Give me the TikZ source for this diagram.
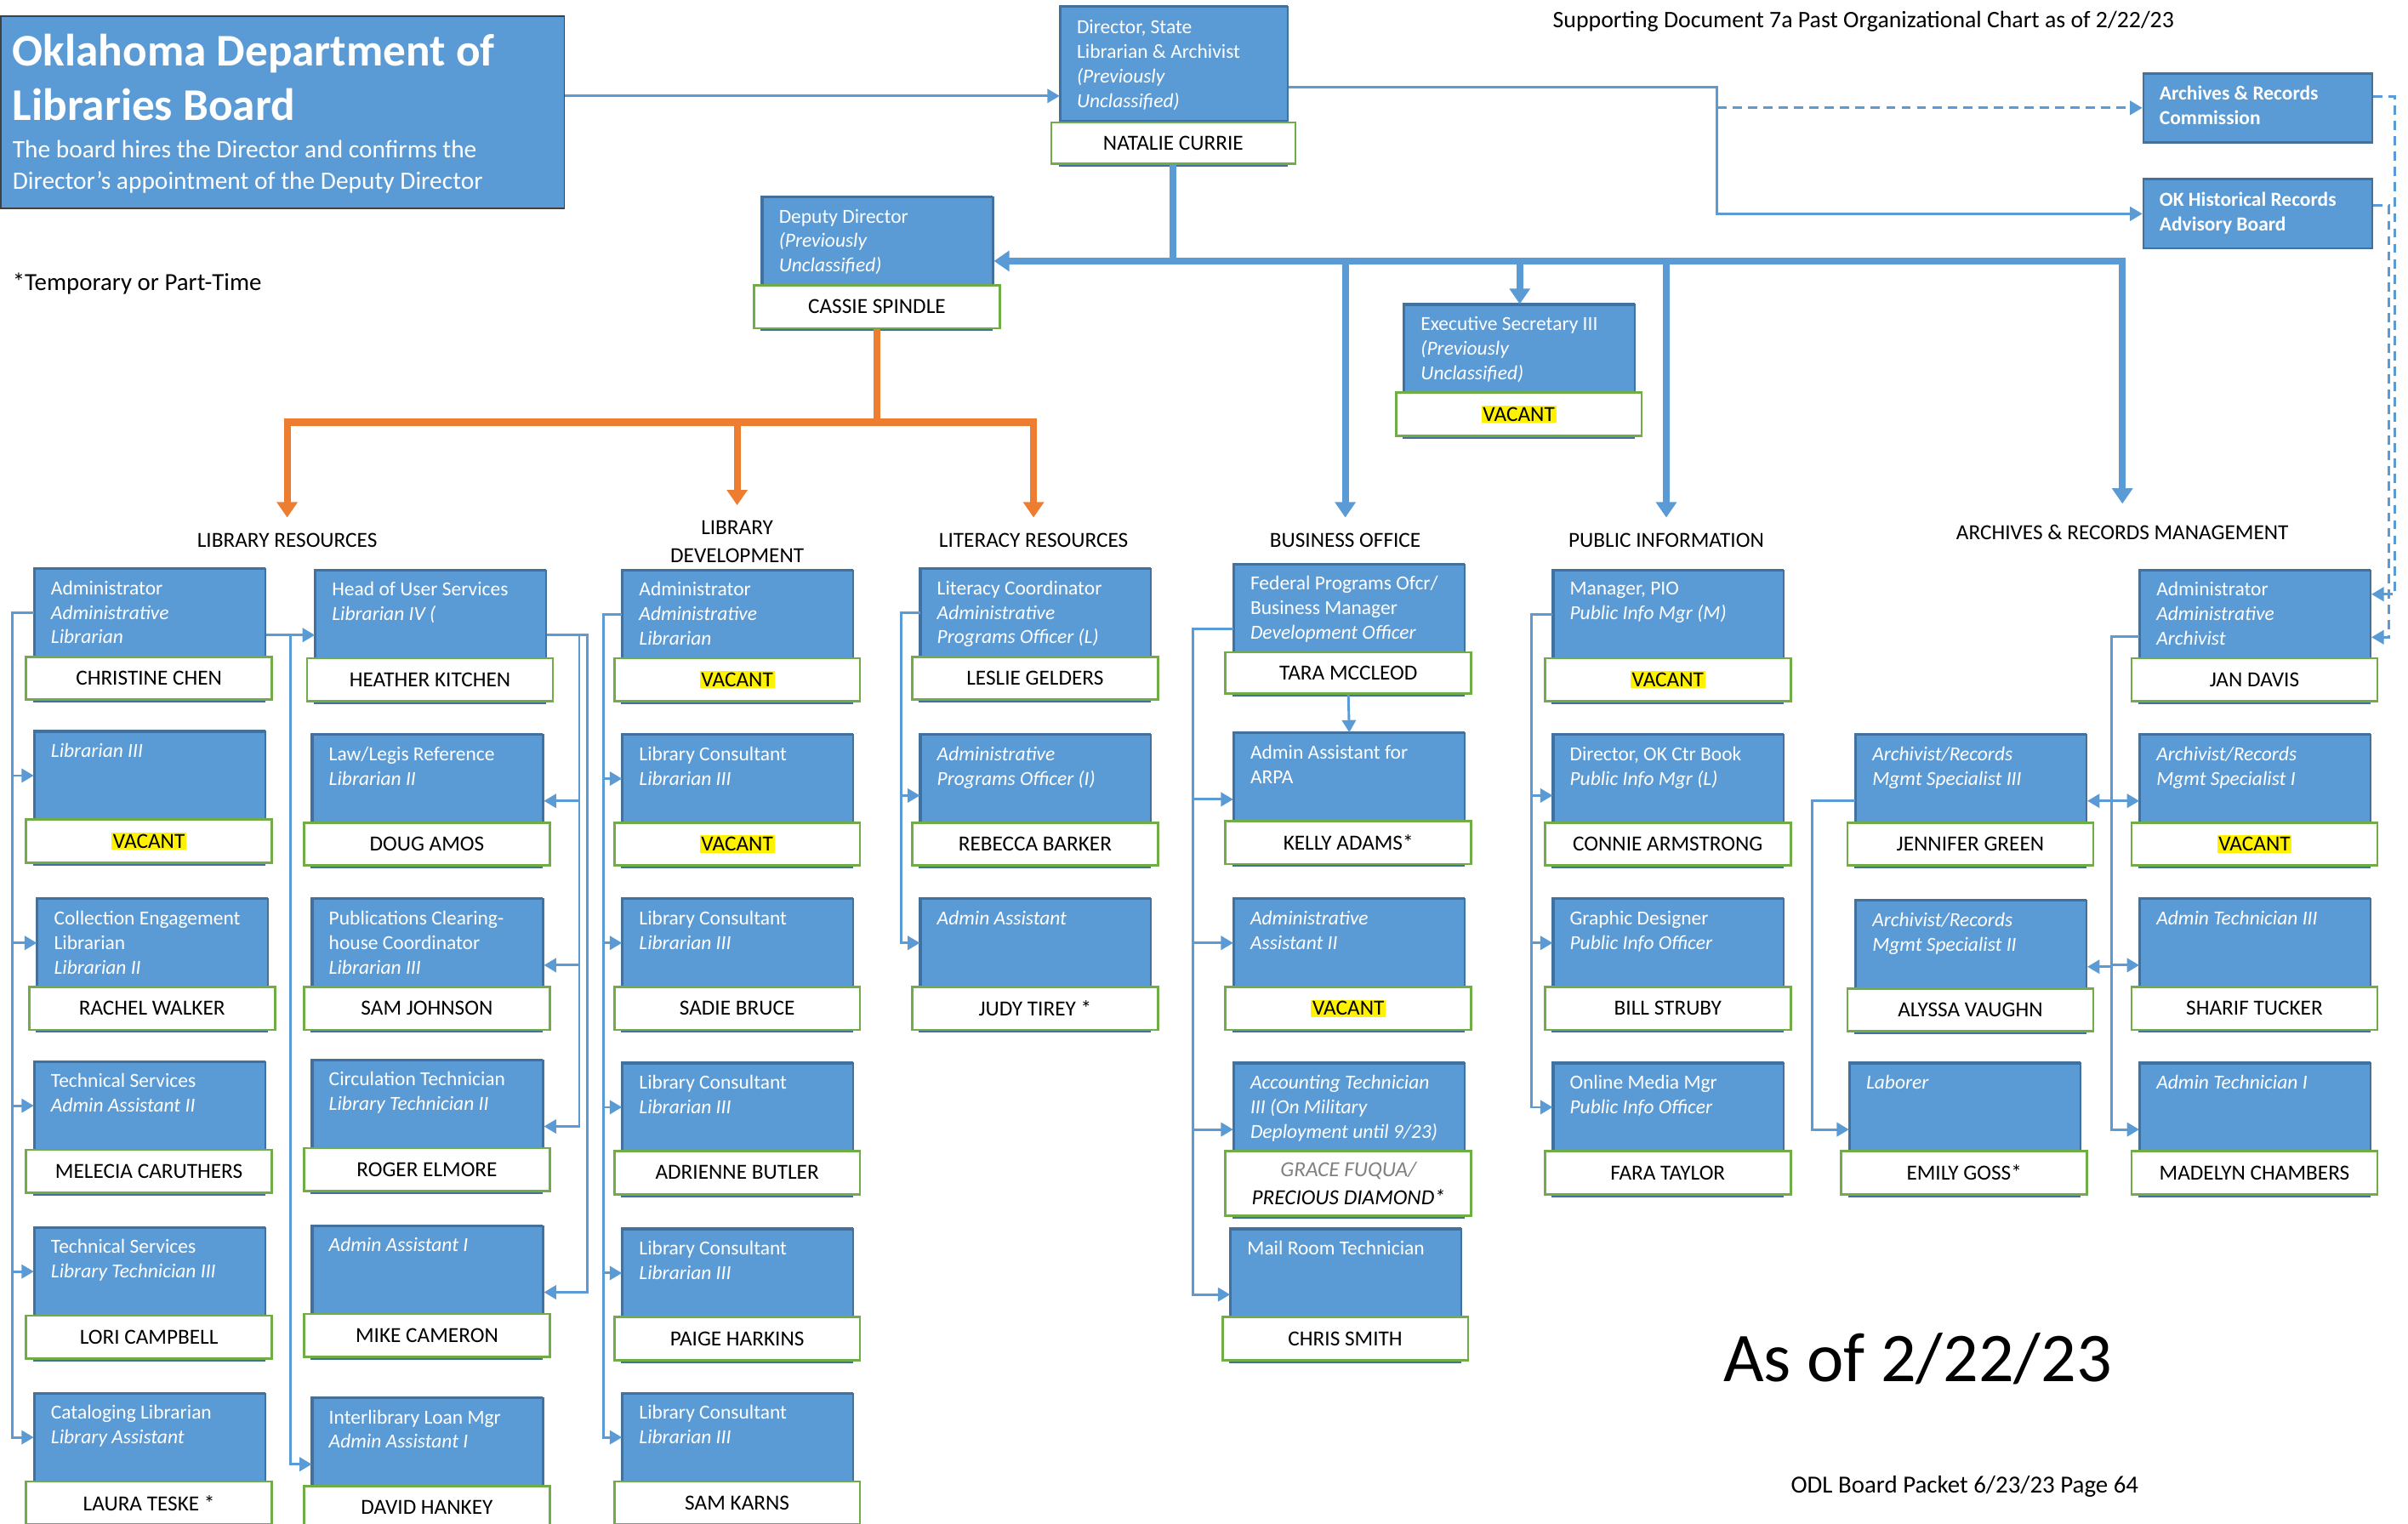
\documentclass[tikz,border=0pt]{standalone}
\usepackage{fontspec}
\setmainfont{Carlito}
\usetikzlibrary{arrows.meta}
\definecolor{cardblue}{HTML}{5B9BD5}
\definecolor{carddark}{HTML}{41719C}
\definecolor{namegreen}{HTML}{70AD47}
\definecolor{lineblue}{HTML}{5B9BD5}
\definecolor{orng}{HTML}{ED7D31}
\setlength{\fboxsep}{1pt}
\newcommand\vac{\colorbox{yellow}{VACANT}}
\tikzset{
 cardbox/.style={fill=cardblue, draw=carddark, line width=1.2pt, minimum width=150pt, minimum height=57pt, inner sep=0pt, anchor=north west},
 cardtext/.style={text=white, font=\fontsize{13}{16}\selectfont, align=left, inner sep=0pt, anchor=north west},
 namebox/.style={fill=white, draw=namegreen, line width=1.5pt, minimum width=160pt, inner sep=0pt, font=\fontsize{14}{18}\selectfont, align=center, anchor=north},
 ln/.style={draw=lineblue, line width=1.6pt},
 arr/.style={ln, -{Triangle[length=8pt,width=9pt]}},
 dasharr/.style={arr, dash pattern=on 6pt off 4pt},
 thk/.style={draw=lineblue, line width=4.5pt},
 thkarr/.style={thk, -{Triangle[length=10pt,width=13pt]}},
 orln/.style={draw=orng, line width=4.5pt},
 orarr/.style={orln, -{Triangle[length=10pt,width=13pt]}},
 sect/.style={font=\fontsize{14}{16}\selectfont, text height=9.5pt, text depth=3pt, inner xsep=0pt, inner ysep=9.5pt},
 plain/.style={inner sep=0pt, anchor=base west},
}
\newcommand\card[6][28]{%
 \filldraw[fill=cardblue, draw=carddark, line width=1.2pt] (#3,#4) rectangle ({#3+150},{#4+59+#1});
 \node[cardbox] (#2) at (#3,#4) {};
 \node[cardtext] at ({#3+11},{#4+8}) {#5};
 \node[namebox, minimum height=#1] (#2n) at ({#3+75},{#4+57}) {#6};
}
\begin{document}
\begin{tikzpicture}[x=1pt, y=-1pt]
\useasboundingbox (0,0) rectangle (1568,992);
\clip (0,0) rectangle (1568,992);
\fill[white] (0,0) rectangle (1568,992);

% ---------- board ----------
\node[fill=cardblue, draw=black!75, line width=1pt, minimum width=367pt, minimum height=125pt, anchor=north west, inner sep=0pt] (board) at (0,10) {};
\node[plain, text=white, font=\bfseries\fontsize{29.5}{35}\selectfont] at (8,43) {Oklahoma Department of};
\node[plain, text=white, font=\bfseries\fontsize{29.5}{35}\selectfont] at (8,78.5) {Libraries Board};
\node[plain, text=white, font=\fontsize{16.3}{20}\selectfont] at (8,102.5) {The board hires the Director and confirms the};
\node[plain, text=white, font=\fontsize{16.3}{20}\selectfont] at (8,123.3) {Director’s appointment of the Deputy Director};
\node[plain, font=\fontsize{16}{20}\selectfont] at (8,189) {*Temporary or Part-Time};
\node[plain, font=\fontsize{15.4}{18}\selectfont] at (1011,18) {Supporting Document 7a Past Organizational Chart as of 2/22/23};
\node[plain, font=\fontsize{45.5}{52}\selectfont] (asof) at (1122,900) {As of 2/22/23};
\node[plain, font=\fontsize{16}{20}\selectfont] at (1166,972.5) {ODL Board Packet 6/23/23 Page 64};

% ---------- director ----------
\filldraw[fill=cardblue, draw=carddark, line width=1.2pt] (690,4) rectangle (838,108);
\node[cardbox, minimum width=148pt, minimum height=74pt] (dir) at (690,4) {};
\node[cardtext] at (701,13) {Director, State\\Librarian \& Archivist\\\textit{(Previously}\\\textit{Unclassified)}};
\node[namebox, minimum width=159pt, minimum height=27pt] (dirn) at (764,79) {NATALIE CURRIE};

% ---------- commissions ----------
\node[fill=cardblue, draw=carddark, line width=1.5pt, minimum width=149pt, minimum height=45pt, anchor=north west, inner sep=0pt] (arc) at (1395,47) {};
\node[cardtext, font=\bfseries\fontsize{13}{16}\selectfont] at (1406,56) {Archives \& Records\\Commission};
\node[fill=cardblue, draw=carddark, line width=1.5pt, minimum width=149pt, minimum height=45pt, anchor=north west, inner sep=0pt] (okh) at (1395,116) {};
\node[cardtext, font=\bfseries\fontsize{13}{16}\selectfont] at (1406,125) {OK Historical Records\\Advisory Board};

% ---------- deputy & exec ----------
\card{dd}{496}{128}{Deputy Director\\\textit{(Previously}\\\textit{Unclassified)}}{CASSIE SPINDLE}
\card{es}{914}{198}{Executive Secretary III\\\textit{(Previously}\\\textit{Unclassified)}}{\vac}

% ---------- section labels ----------
\node[sect] (lrh) at (187,353) {LIBRARY RESOURCES};
\node[sect] (ldh) at (480,345) {LIBRARY};
\node[sect] (ldh2) at (480,363) {DEVELOPMENT};
\node[sect] (lith) at (673,353) {LITERACY RESOURCES};
\node[sect] (boh) at (876,353) {BUSINESS OFFICE};
\node[sect] (pih) at (1085,353) {PUBLIC INFORMATION};
\node[sect, inner ysep=13.5pt] (armh) at (1382,348) {ARCHIVES \& RECORDS MANAGEMENT};

% ---------- library resources ----------
\card{cc}{22}{370}{Administrator\\\textit{Administrative}\\\textit{Librarian}}{CHRISTINE CHEN}
\card{v1}{22}{476}{\textit{Librarian III}}{\vac}
\card{rw}{24}{585}{Collection Engagement\\Librarian\\\textit{Librarian II}}{RACHEL WALKER}
\card{mc}{22}{691}{Technical Services\\\textit{Admin Assistant II}}{MELECIA CARUTHERS}
\card{lc}{22}{799}{Technical Services\\\textit{Library Technician III}}{LORI CAMPBELL}
\card{lt}{22}{907}{Cataloging Librarian\\\textit{Library Assistant}}{LAURA TESKE *}
\card{hk}{205}{371}{Head of User Services\\\textit{Librarian IV (}}{HEATHER KITCHEN}
\card{da}{203}{478}{Law/Legis Reference\\\textit{Librarian II}}{DOUG AMOS}
\card{sj}{203}{585}{Publications Clearing-\\house Coordinator\\\textit{Librarian III}}{SAM JOHNSON}
\card{re}{203}{690}{Circulation Technician\\\textit{Library Technician II}}{ROGER ELMORE}
\card{mcam}{203}{798}{\textit{Admin Assistant I}}{MIKE CAMERON}
\card{dh}{203}{910}{Interlibrary Loan Mgr\\\textit{Admin Assistant I}}{DAVID HANKEY}

% ---------- library development ----------
\card{lda}{405}{371}{Administrator\\\textit{Administrative}\\\textit{Librarian}}{\vac}
\card{ld2}{405}{478}{Library Consultant\\\textit{Librarian III}}{\vac}
\card{sb}{405}{585}{Library Consultant\\\textit{Librarian III}}{SADIE BRUCE}
\card{ab}{405}{692}{Library Consultant\\\textit{Librarian III}}{ADRIENNE BUTLER}
\card{ph}{405}{800}{Library Consultant\\\textit{Librarian III}}{PAIGE HARKINS}
\card{sk}{405}{907}{Library Consultant\\\textit{Librarian III}}{SAM KARNS}

% ---------- literacy ----------
\card{lg}{599}{370}{Literacy Coordinator\\\textit{Administrative}\\\textit{Programs Officer (L)}}{LESLIE GELDERS}
\card{rb}{599}{478}{\textit{Administrative}\\\textit{Programs Officer (I)}}{REBECCA BARKER}
\card{jt}{599}{585}{\textit{Admin Assistant}}{JUDY TIREY *}

% ---------- business office ----------
\card[27]{tm}{803}{367}{Federal Programs Ofcr/\\Business Manager\\\textit{Development Officer}}{TARA MCCLEOD}
\card{ka}{803}{477}{Admin Assistant for\\ARPA}{KELLY ADAMS*}
\card{aa2}{803}{585}{\textit{Administrative}\\\textit{Assistant II}}{\vac}
\card[42]{act}{803}{692}{\textit{Accounting Technician}\\\textit{III (On Military}\\\textit{Deployment until 9/23)}}{{\color{gray}\itshape GRACE FUQUA/}\\{\itshape PRECIOUS DIAMOND*}}
\card{mr}{801}{800}{Mail Room Technician}{CHRIS SMITH}

% ---------- public information ----------
\card{pm}{1011}{371}{Manager, PIO\\\textit{Public Info Mgr (M)}}{\vac}
\card{ca}{1011}{478}{Director, OK Ctr Book\\\textit{Public Info Mgr (L)}}{CONNIE ARMSTRONG}
\card{bs}{1011}{585}{Graphic Designer\\\textit{Public Info Officer}}{BILL STRUBY}
\card{ft}{1011}{692}{Online Media Mgr\\\textit{Public Info Officer}}{FARA TAYLOR}

% ---------- archives ----------
\card{jd}{1393}{371}{Administrator\\\textit{Administrative}\\\textit{Archivist}}{JAN DAVIS}
\card{v4}{1393}{478}{\textit{Archivist/Records}\\\textit{Mgmt Specialist I}}{\vac}
\card{st}{1393}{585}{\textit{Admin Technician III}}{SHARIF TUCKER}
\card{mch}{1393}{692}{\textit{Admin Technician I}}{MADELYN CHAMBERS}
\card{jg}{1208}{478}{\textit{Archivist/Records}\\\textit{Mgmt Specialist III}}{JENNIFER GREEN}
\card{av}{1208}{586}{\textit{Archivist/Records}\\\textit{Mgmt Specialist II}}{ALYSSA VAUGHN}
\card{eg}{1204}{692}{\textit{Laborer}}{EMILY GOSS*}

% ================= connectors =================
\coordinate (b1) at ([yshift=10.5pt]board.east);
\draw[arr] (b1) -- (b1 -| dir.west);

\coordinate (d1) at ([yshift=-15pt]dir.east);
\path (d1) ++(279,0) coordinate (split);
\draw[arr] (d1) -- (split) |- (okh.west);
\draw[dasharr] (split |- arc.west) -- (arc.west);

\draw[dasharr] ([yshift=7.5pt]arc.east) -- ++(14,0) |- ([yshift=-16pt]jd.north east);
\draw[dasharr] ([yshift=5.5pt]okh.east) -- ++(10,0) |- ([yshift=-44pt]jd.north east);

\coordinate (hub) at (dirn.south |- 0,170);
\draw[thk] (dirn.south) -- (hub);
\draw[thkarr] (hub) -- (hub -| dd.east);
\draw[thkarr] (hub) -| (boh.north);
\draw[thkarr] (hub) -| (es.north);
\draw[thkarr] (hub) -| (pih.north);
\draw[thkarr] (hub) -| (armh.north);

\coordinate (ohub) at (ddn.south |- 0,275);
\draw[orln] (ddn.south) -- (ohub);
\draw[orarr] (ohub) -| (lrh.north);
\draw[orarr] (ohub) -| (ldh.north);
\draw[orarr] (ohub) -| (lith.north);

% library resources
\foreach \t in {v1,rw,mc,lc,lt} \draw[arr] (cc.west) -- ++(-14,0) |- (\t.west);
\coordinate (c1) at ([yshift=-14.5pt]cc.east);
\draw[arr] (c1) -- (c1 -| hk.west);
\draw[arr] (c1) -- ++(16,0) |- ([yshift=-14.5pt]dh.west);
\coordinate (h1) at ([yshift=-13.5pt]hk.east);
\foreach \t in {da,sj,re} \draw[arr] (h1) -- ++(21,0) |- ([yshift=-14.5pt]\t.east);
\draw[arr] (h1) -- ++(26,0) |- ([yshift=-14.5pt]mcam.east);

% library development
\foreach \t in {ld2,sb,ab,ph,sk} \draw[arr] (lda.west) -- ++(-12,0) |- (\t.west);

% literacy
\draw[arr] (lg.west) -- ++(-12,0) |- ([yshift=-11pt]rb.west);
\draw[arr] (lg.west) -- ++(-12,0) |- (jt.west);

% business office
\coordinate (t1) at ([yshift=-13.5pt]tm.west);
\draw[arr] (t1) -- ++(-26,0) |- ([yshift=-14.5pt]ka.west);
\draw[arr] (t1) -- ++(-26,0) |- (aa2.west);
\draw[arr] (t1) -- ++(-26,0) |- ([yshift=-14.5pt]act.west);
\draw[arr] (t1) -- ++(-26,0) |- ([yshift=-14pt]mr.west);
\draw[arr] (tmn.south) -- (ka.north);

% public information
\draw[arr] (pm.west) -- ++(-14,0) |- ([yshift=-11pt]ca.west);
\draw[arr] (pm.west) -- ++(-14,0) |- (bs.west);
\draw[arr] (pm.west) -- ++(-14,0) |- (ft.west);

% archives
\coordinate (j1) at ([yshift=-14.5pt]jd.west);
\foreach \t in {v4,st,mch} \draw[arr] (j1) -- ++(-18,0) |- ([yshift=-14.5pt]\t.west);
\draw[arr] (j1) -- ++(-18,0) |- ([yshift=-14.5pt]jg.east);
\draw[arr] (j1) -- ++(-18,0) |- ([yshift=-14.5pt]av.east);
\draw[arr] ([yshift=-14.5pt]jg.west) -- ++(-28,0) |- ([yshift=-14.5pt]eg.west);
\end{tikzpicture}
\end{document}
